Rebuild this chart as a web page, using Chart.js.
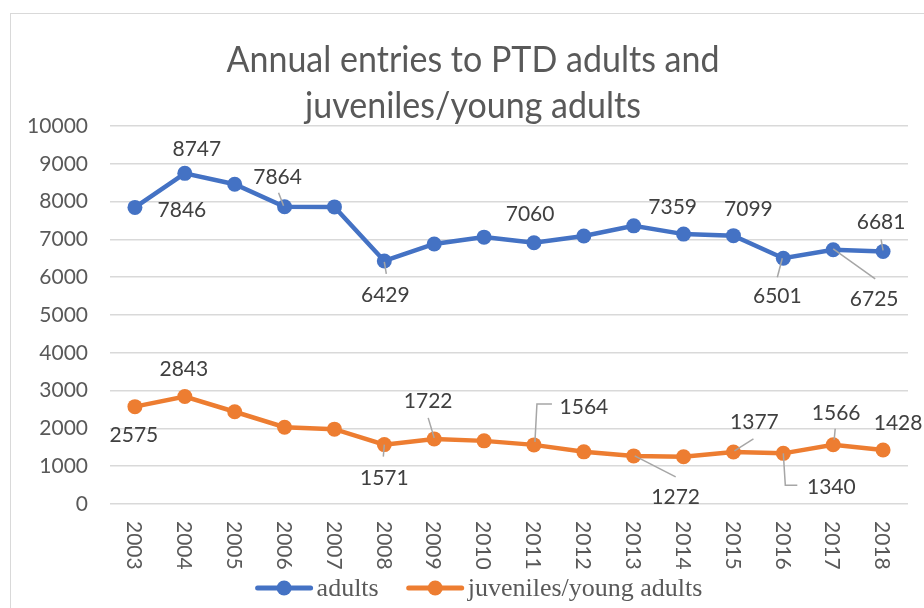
<!DOCTYPE html>
<html><head><meta charset="utf-8">
<script src="https://cdn.jsdelivr.net/npm/chart.js@4"></script>
<style>
html,body{margin:0;padding:0;background:#fff;overflow:hidden}
#wrap{position:relative;width:924px;height:608px;overflow:hidden}
#frame{position:absolute;left:10px;top:13px;width:1000px;height:700px;border:1px solid #d9d9d9;box-sizing:border-box;pointer-events:none}
canvas{display:block}
</style></head><body>
<div id="wrap"><canvas id="c" width="924" height="608"></canvas><div id="frame"></div></div>
<script>
const years = ['2003','2004','2005','2006','2007','2008','2009','2010','2011','2012','2013','2014','2015','2016','2017','2018'];
const adults = [7846, 8747, 8460, 7864, 7860, 6429, 6880, 7060, 6910, 7090, 7359, 7140, 7099, 6501, 6725, 6681];
const juveniles = [2575, 2843, 2440, 2030, 1980, 1571, 1722, 1670, 1564, 1380, 1272, 1250, 1377, 1340, 1566, 1428];
const adultsLabelled = [0, 1, 3, 5, 7, 10, 12, 13, 14, 15];
const juvenilesLabelled = [0, 1, 5, 6, 8, 10, 12, 13, 14, 15];
const yTicks = [0, 1000, 2000, 3000, 4000, 5000, 6000, 7000, 8000, 9000, 10000];
const titleLines = ['Annual entries to PTD adults and', 'juveniles/young adults'];
const seriesNames = ['adults', 'juveniles/young adults'];

// label placement (pixel offsets of label centre from its point, optional leader polyline)
const adultsLabelPos = {
  0: {d: [47, 2]},
  1: {d: [12, -25]},
  3: {d: [-7, -31], l: [[-6, -14], [-1, -1]]},
  5: {d: [1, 33], l: [[0, 1], [2, 13]]},
  7: {d: [46, -24]},
  10: {d: [39, -20]},
  12: {d: [15, -27]},
  13: {d: [-6, 37], l: [[-1, 0], [-6, 19]]},
  14: {d: [41, 48], l: [[0, -1], [42, 29]]},
  15: {d: [-2, -30], l: [[-2, -12], [0, -1]]}
};
const juvenilesLabelPos = {
  0: {d: [-1, 28]},
  1: {d: [-1, -28]},
  5: {d: [0, 33], l: [[0, 0], [-1, 12]]},
  6: {d: [-6, -39], l: [[-6, -21], [0, -1]]},
  8: {d: [50, -39], l: [[1, -3], [3, -41], [18, -41]]},
  10: {d: [42, 40], l: [[1, 0], [42, 21]]},
  12: {d: [21, -31], l: [[1, -1], [20, -13]]},
  13: {d: [48, 33], l: [[0, 0], [2, 32], [14, 32]]},
  14: {d: [3, -33], l: [[2, -16], [1, -5]]},
  15: {d: [15, -28]}
};

const BLUE = '#4472C4', ORANGE = '#ED7D31', TXT = '#595959', LBL = '#404040';

const decor = {
  id: 'decor',
  afterDatasetsDraw(chart) {
    const ctx = chart.ctx;
    const xs = chart.scales.x, ys = chart.scales.y;
    const sets = [[adults, adultsLabelled, adultsLabelPos], [juveniles, juvenilesLabelled, juvenilesLabelPos]];
    ctx.save();
    ctx.font = '21px Lato';
    ctx.textAlign = 'center';
    ctx.textBaseline = 'middle';
    sets.forEach(([vals, idxs, pos]) => {
      idxs.forEach(i => {
        const px = xs.getPixelForValue(i), py = ys.getPixelForValue(vals[i]);
        const p = pos[i];
        if (p.l) {
          ctx.strokeStyle = '#a6a6a6';
          ctx.lineWidth = 1.5;
          ctx.beginPath();
          p.l.forEach((q, k) => { if (k === 0) ctx.moveTo(px + q[0], py + q[1]); else ctx.lineTo(px + q[0], py + q[1]); });
          ctx.stroke();
        }
        ctx.fillStyle = LBL;
        ctx.fillText(String(vals[i]), px + p.d[0], py + p.d[1] + 1);
      });
    });
    ctx.restore();
  },
  afterDraw(chart) {
    const ctx = chart.ctx;
    const xs = chart.scales.x;
    ctx.save();
    // title (condensed to the reference's width)
    ctx.fillStyle = TXT;
    ctx.font = '37px Lato';
    ctx.textAlign = 'center';
    ctx.textBaseline = 'alphabetic';
    const sx = 493 / ctx.measureText(titleLines[0]).width;
    [[titleLines[0], 72], [titleLines[1], 118]].forEach(([t, by]) => {
      ctx.save();
      ctx.translate(473, by);
      ctx.scale(sx, 1);
      ctx.fillText(t, 0, 0);
      ctx.restore();
    });
    // x tick labels, rotated clockwise
    ctx.font = '21px Lato';
    ctx.textAlign = 'left';
    ctx.textBaseline = 'middle';
    years.forEach((y, i) => {
      const x = xs.getPixelForValue(i);
      ctx.save();
      ctx.translate(x, 521);
      ctx.rotate(Math.PI / 2);
      ctx.fillText(y, 0, 1);
      ctx.restore();
    });
    // legend
    ctx.font = '26px "Liberation Serif"';
    const w0 = ctx.measureText(seriesNames[0]).width, w1 = ctx.measureText(seriesNames[1]).width;
    const sw = 57, gap = 4, itemGap = 28;
    const total = sw + gap + w0 + itemGap + sw + gap + w1;
    let x = 479 - total / 2;
    const ly = 588;
    [[BLUE, seriesNames[0], w0], [ORANGE, seriesNames[1], w1]].forEach(([c, t, w]) => {
      ctx.strokeStyle = c; ctx.lineWidth = 5; ctx.lineCap = 'round';
      ctx.beginPath(); ctx.moveTo(x + 2, ly); ctx.lineTo(x + sw - 2, ly); ctx.stroke();
      ctx.fillStyle = c; ctx.beginPath(); ctx.arc(x + sw / 2, ly, 7.5, 0, Math.PI * 2); ctx.fill();
      ctx.fillStyle = TXT; ctx.textAlign = 'left'; ctx.textBaseline = 'middle';
      ctx.fillText(t, x + sw + gap, ly + 1);
      x += sw + gap + w + itemGap;
    });
    ctx.restore();
  }
};

new Chart(document.getElementById('c'), {
  type: 'line',
  data: {
    labels: years,
    datasets: [
      {label: seriesNames[0], data: adults, borderColor: BLUE, backgroundColor: BLUE, borderWidth: 4.5, pointRadius: 7.5, pointHoverRadius: 7.5, pointBorderWidth: 0, tension: 0},
      {label: seriesNames[1], data: juveniles, borderColor: ORANGE, backgroundColor: ORANGE, borderWidth: 4.5, pointRadius: 7.5, pointHoverRadius: 7.5, pointBorderWidth: 0, tension: 0}
    ]
  },
  options: {
    responsive: false,
    animation: false,
    events: [],
    layout: {padding: {left: 0, right: 16, top: 126, bottom: 0}},
    plugins: {legend: {display: false}, title: {display: false}, tooltip: {enabled: false}},
    scales: {
      x: {
        offset: true,
        grid: {display: false},
        border: {display: false},
        ticks: {display: false},
        afterFit(s) { s.height = 104; }
      },
      y: {
        min: 0, max: 10000,
        afterBuildTicks(s) { s.ticks = yTicks.map(v => ({value: v})); },
        grid: {color: '#d9d9d9', lineWidth: 1.5, drawTicks: false},
        border: {display: false},
        ticks: {font: {family: 'Lato', size: 21}, color: TXT, padding: 22, callback: v => String(v)},
        afterFit(s) { s.width = 110; }
      }
    }
  },
  plugins: [decor]
});
</script>
</body></html>
